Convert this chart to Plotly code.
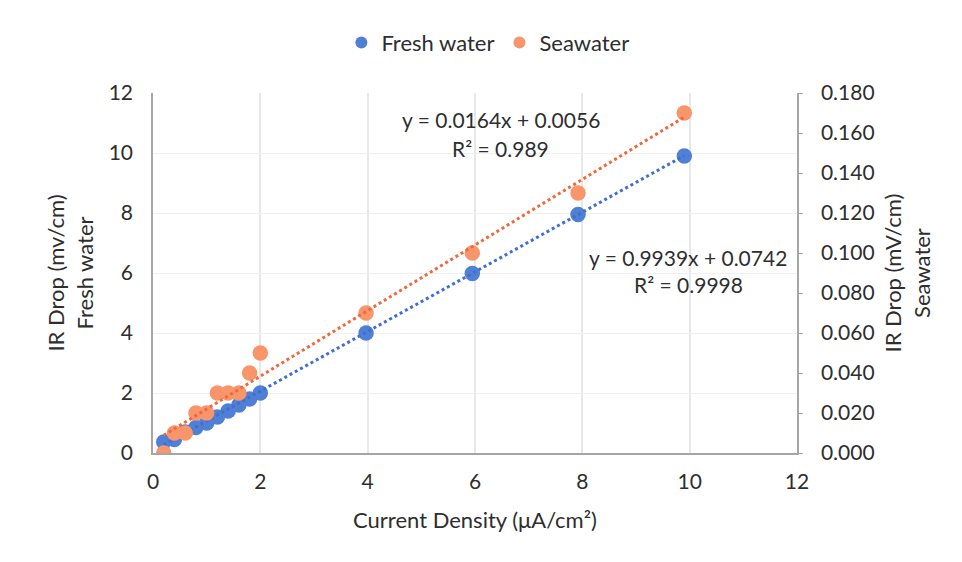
import numpy as np
import plotly.graph_objects as go

# Current density (uA/cm2)
current_density = [0.2, 0.4, 0.6, 0.8, 1.0, 1.2, 1.4, 1.6, 1.8, 2.0, 3.97, 5.95, 7.92, 9.9]

# IR drop in fresh water (mV/cm), left axis
fresh_water = [0.37, 0.45, 0.7, 0.85, 1.0, 1.2, 1.4, 1.6, 1.8, 2.0, 4.0, 5.98, 7.95, 9.9]

# IR drop in seawater (mV/cm), right axis
seawater = [0.0, 0.01, 0.01, 0.02, 0.02, 0.03, 0.03, 0.03, 0.04, 0.05, 0.07, 0.10, 0.13, 0.17]

# Linear fit coefficients (slope, intercept, R^2)
fresh_fit = (0.9939, 0.0742, 0.9998)
sea_fit = (0.0164, 0.0056, 0.989)

FONT = "Lato, 'Open Sans', sans-serif"
TXT = "#2e2e2e"
BLUE_M = "#4f80d6"
ORANGE_M = "#f8956b"
BLUE_L = "#3f6fd0"
ORANGE_L = "#f0683c"
GRID = "#e8e8e8"
AXIS = "#a6a6a6"
TICK_SIZE = 21
TITLE_SIZE = 22

x_fit = np.linspace(min(current_density), max(current_density), 50)

fig = go.Figure()
fig.add_trace(go.Scatter(
    x=current_density, y=fresh_water, mode="markers", name="Fresh water",
    marker=dict(color=BLUE_M, size=15.5), yaxis="y"))
fig.add_trace(go.Scatter(
    x=current_density, y=seawater, mode="markers", name="Seawater",
    marker=dict(color=ORANGE_M, size=15.5), yaxis="y2"))
fig.add_trace(go.Scatter(
    x=x_fit, y=fresh_fit[0] * x_fit + fresh_fit[1], mode="lines",
    line=dict(color=BLUE_L, width=3, dash="dot"), showlegend=False,
    hoverinfo="skip", yaxis="y"))
fig.add_trace(go.Scatter(
    x=x_fit, y=sea_fit[0] * x_fit + sea_fit[1], mode="lines",
    line=dict(color=ORANGE_L, width=3, dash="dot"), showlegend=False,
    hoverinfo="skip", yaxis="y2"))


def eq_note(text, x, y):
    return dict(text=text, x=x, y=y, xref="paper", yref="paper",
                xanchor="center", yanchor="middle", showarrow=False,
                font=dict(size=TITLE_SIZE - 1))


fig.update_layout(
    width=962, height=562,
    margin=dict(l=153, r=165, t=93, b=109),
    paper_bgcolor="white", plot_bgcolor="white",
    font=dict(family=FONT, size=TICK_SIZE, color=TXT),
    showlegend=True,
    legend=dict(orientation="h", x=0.52, xanchor="center", y=1.14, yanchor="middle",
                font=dict(size=TITLE_SIZE), itemsizing="constant", itemwidth=30,
                traceorder="normal"),
    xaxis=dict(range=[0, 12], dtick=2, showgrid=True, gridcolor=GRID, gridwidth=1.5,
               zeroline=False, showline=True, linecolor=AXIS, linewidth=1.5,
               ticks="", ticklabelstandoff=9, tickfont=dict(size=TICK_SIZE),
               title=dict(text="Current Density (\u03bcA/cm\u00b2)", standoff=21,
                          font=dict(size=TITLE_SIZE))),
    yaxis=dict(range=[0, 12], dtick=2, showgrid=True, gridcolor="#f0f0f0",
               zeroline=False, showline=True, linecolor=AXIS, linewidth=1.5,
               ticks="", ticklabelstandoff=14, tickfont=dict(size=TICK_SIZE),
               title=dict(text="IR Drop (mv/cm)<br>Fresh water", standoff=9,
                          font=dict(size=TITLE_SIZE))),
    yaxis2=dict(range=[0, 0.18], dtick=0.02, tickformat=".3f", overlaying="y",
                side="right", showgrid=False, zeroline=False, showline=True,
                linecolor=AXIS, linewidth=1.5, ticks="outside", ticklen=4,
                tickcolor=AXIS, ticklabelstandoff=14, tickfont=dict(size=TICK_SIZE),
                title=dict(text="IR Drop (mV/cm)<br>Seawater", standoff=12,
                           font=dict(size=TITLE_SIZE))),
    annotations=[
        eq_note(f"y = {sea_fit[0]}x + {sea_fit[1]}", 0.540, 0.925),
        eq_note(f"R\u00b2 = {sea_fit[2]}", 0.540, 0.847),
        eq_note(f"y = {fresh_fit[0]}x + {fresh_fit[1]}", 0.831, 0.544),
        eq_note(f"R\u00b2 = {fresh_fit[2]}", 0.831, 0.467),
    ],
)

fig.write_html("out.html")
